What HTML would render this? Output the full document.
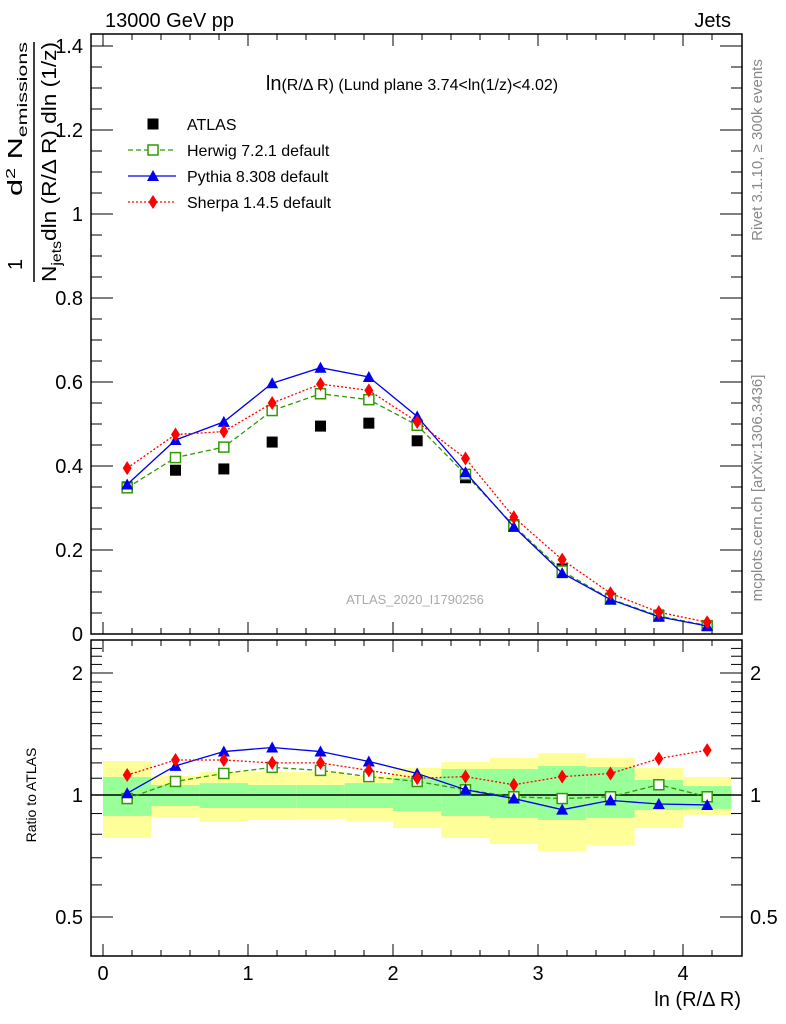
<!DOCTYPE html>
<html><head><meta charset="utf-8">
<style>
html,body{margin:0;padding:0;background:#fff;}
svg{display:block;font-family:"Liberation Sans",sans-serif;}
</style></head>
<body>
<svg id="chart" width="786" height="1024" viewBox="0 0 786 1024" xmlns="http://www.w3.org/2000/svg">
<text x="105" y="27" font-size="20">13000 GeV pp</text>
<text x="731" y="27" font-size="20" text-anchor="end">Jets</text>
<text x="412" y="90" font-size="16" text-anchor="middle"><tspan font-size="20">ln</tspan>(R/Δ R) (Lund plane 3.74&lt;ln(1/z)&lt;4.02)</text>
<text x="415" y="604" font-size="13" fill="#aaa" text-anchor="middle">ATLAS_2020_I1790256</text>
<text transform="translate(762,150) rotate(-90)" font-size="15" fill="#888" text-anchor="middle">Rivet 3.1.10, ≥ 300k events</text>
<text transform="translate(762,488) rotate(-90)" font-size="15" fill="#888" text-anchor="middle">mcplots.cern.ch [arXiv:1306.3436]</text>
<g font-size="20">
<text transform="translate(22,270) rotate(-90)">1</text>
<line x1="34" y1="42" x2="34" y2="282" stroke="#000" stroke-width="1.5"/>
<text transform="translate(22,196) rotate(-90)" textLength="154" lengthAdjust="spacingAndGlyphs">d<tspan font-size="13" dy="-7">2</tspan><tspan dy="7"> N</tspan><tspan font-size="14" dy="5">emissions</tspan></text>
<text transform="translate(56,282) rotate(-90)" textLength="240" lengthAdjust="spacingAndGlyphs">N<tspan font-size="14" dy="5">jets</tspan><tspan dy="-5">dln (R/Δ R) dln (1/z)</tspan></text>
</g>
<text transform="translate(36,795) rotate(-90)" font-size="14" text-anchor="middle">Ratio to ATLAS</text>
<text x="741" y="1006" font-size="20" text-anchor="end">ln (R/Δ R)</text>
<g id="layer"></g>
</svg>
<script>
const edges=[0,0.3333,0.6667,1,1.3333,1.6667,2,2.3333,2.6667,3,3.3333,3.6667,4,4.3333];
const centers=[0.1667,0.5,0.8333,1.1667,1.5,1.8333,2.1667,2.5,2.8333,3.1667,3.5,3.8333,4.1667];
const atlas=[0.35,0.39,0.393,0.457,0.495,0.502,0.46,0.372,0.26,0.155,0.085,0.045,0.02];
const herwig=[0.348,0.42,0.445,0.532,0.572,0.558,0.497,0.38,0.258,0.15,0.083,0.043,0.02];
const pythia=[0.356,0.462,0.505,0.597,0.634,0.612,0.518,0.385,0.255,0.145,0.082,0.041,0.019];
const sherpa=[0.395,0.475,0.482,0.55,0.595,0.58,0.505,0.418,0.278,0.177,0.097,0.052,0.028];
const herwigRatio=[0.98,1.08,1.13,1.17,1.15,1.11,1.08,1.03,0.99,0.98,0.99,1.06,0.99];
const pythiaRatio=[1.01,1.18,1.28,1.31,1.28,1.21,1.13,1.03,0.98,0.92,0.97,0.95,0.945];
const sherpaRatio=[1.12,1.22,1.22,1.2,1.2,1.15,1.1,1.11,1.06,1.11,1.13,1.23,1.29];
const sherpaRatioErr=[0,0,0,0,0,0,0,0,0,0.01,0.02,0.035,0.045];
const greenTop=[1.108,1.058,1.07,1.058,1.058,1.07,1.101,1.159,1.159,1.179,1.172,1.089,1.052];
const greenBot=[0.888,0.939,0.929,0.929,0.929,0.929,0.913,0.888,0.878,0.868,0.878,0.918,0.924];
const yellowTop=[1.213,1.114,1.14,1.14,1.14,1.114,1.166,1.206,1.234,1.269,1.234,1.166,1.108];
const yellowBot=[0.783,0.882,0.858,0.868,0.873,0.863,0.829,0.783,0.757,0.727,0.753,0.829,0.893];
const xTicks=[0,1,2,3,4];
const yTicks=[0,0.2,0.4,0.6,0.8,1,1.2,1.4];
const yTickLabels=["0","0.2","0.4","0.6","0.8","1","1.2","1.4"];
const rTicks=[0.5,1,2];

const L=91,R=742,T=34,B=634,RT=640,RB=956;
const X=v=>103+v*145;
const Y=v=>634-v*420;
const RY=r=>795-122*Math.log2(r);
const NS="http://www.w3.org/2000/svg";
const layer=document.getElementById('layer');
function mk(tag,attrs,parent){const e=document.createElementNS(NS,tag);for(const k in attrs)e.setAttribute(k,attrs[k]);(parent||layer).appendChild(e);return e;}

const bands=mk('g',{});


for(let i=0;i<centers.length;i++){
  const x1=X(edges[i]),x2=X(edges[i+1]);
  const y=mk('rect',{x:x1,y:RY(yellowTop[i]),width:x2-x1,height:RY(yellowBot[i])-RY(yellowTop[i]),fill:'#ffff99'},bands);
  
  
  const g=mk('rect',{x:x1,y:RY(greenTop[i]),width:x2-x1,height:RY(greenBot[i])-RY(greenTop[i]),fill:'#99ff99'},bands);
  
  
}
const one=mk('line',{x1:L,x2:R,y1:RY(1),y2:RY(1),stroke:'#000','stroke-width':1.5});



for(const [t,b,nm] of [[T,B,'main-frame'],[RT,RB,'ratio-frame']]){
  const f=mk('rect',{x:L,y:t,width:R-L,height:b-t,fill:'none',stroke:'#000','stroke-width':1.5});
  
  
  for(let v=-0.0;v<=4.4;v+=0.2){
    const xx=X(v);const major=Math.abs(v-Math.round(v))<1e-6;const len=major?12:6;
    mk('line',{x1:xx,x2:xx,y1:b,y2:b-len,stroke:'#000'});
    mk('line',{x1:xx,x2:xx,y1:t,y2:t+len,stroke:'#000'});
  }
}
for(let v=0;v<=1.42;v+=0.05){
  const yy=Y(v);const major=Math.abs(v/0.2-Math.round(v/0.2))<1e-6;const len=major?22:11;
  mk('line',{x1:L,x2:L+len,y1:yy,y2:yy,stroke:'#000'});
  mk('line',{x1:R,x2:R-len,y1:yy,y2:yy,stroke:'#000'});
}
yTicks.forEach((v,i)=>{const t=mk('text',{x:83,y:Y(v)+7,'font-size':20,'text-anchor':'end'});t.textContent=yTickLabels[i];
 
 });
for(let r=0.4;r<=2.4;r+=0.1){const yy=RY(r);if(yy<RT||yy>RB)continue;
 const major=rTicks.some(m=>Math.abs(m-r)<1e-6);const len=major?22:11;
 mk('line',{x1:L,x2:L+len,y1:yy,y2:yy,stroke:'#000'});
 mk('line',{x1:R,x2:R-len,y1:yy,y2:yy,stroke:'#000'});}
rTicks.forEach(r=>{for(const [x,a] of [[83,'end'],[750,'start']]){const t=mk('text',{x:x,y:RY(r)+7,'font-size':20,'text-anchor':a});t.textContent=String(r);
 
 }});
xTicks.forEach(v=>{const t=mk('text',{x:X(v),y:980,'font-size':20,'text-anchor':'middle'});t.textContent=String(v);
 
 });

function marker(kind,x,y,color,g){
  if(kind==='sq') return mk('rect',{x:x-5.5,y:y-5.5,width:11,height:11,fill:'#000'},g);
  if(kind==='osq') return mk('rect',{x:x-5,y:y-5,width:10,height:10,fill:'#fff',stroke:color,'stroke-width':1.5},g);
  if(kind==='tri') return mk('polygon',{points:`${x-6},${y+5} ${x+6},${y+5} ${x},${y-6}`,fill:color},g);
  if(kind==='dia') return mk('polygon',{points:`${x},${y-7} ${x+4.5},${y} ${x},${y+7} ${x-4.5},${y}`,fill:color},g);
}
function series(name,vals,yf,color,dash,kind,err){
  const g=mk('g',{});
  
  
  if(color){const pts=centers.map((c,i)=>X(c)+','+yf(vals[i])).join(' ');
    mk('polyline',{points:pts,fill:'none',stroke:color,'stroke-width':1.3,'stroke-dasharray':dash},g);}
  centers.forEach((c,i)=>{
    if(err&&err[i]>0)mk('line',{x1:X(c),x2:X(c),y1:yf(vals[i]+err[i]),y2:yf(vals[i]-err[i]),stroke:color,'stroke-width':1.3,'stroke-dasharray':'2,2'},g);
    const m=marker(kind,X(c),yf(vals[i]),color||'#000',g);
    
    
  });
}
series('atlas-series',atlas,Y,null,'','sq');
series('herwig-series',herwig,Y,'#339900','5,3','osq');
series('pythia-series',pythia,Y,'#0000ee','','tri');
series('sherpa-series',sherpa,Y,'#ff0000','2,2','dia');
series('herwig-ratio',herwigRatio,RY,'#339900','5,3','osq');
series('pythia-ratio',pythiaRatio,RY,'#0000ee','','tri');
series('sherpa-ratio',sherpaRatio,RY,'#ff0000','2,2','dia',sherpaRatioErr);

const leg=[['ATLAS',null,'','sq'],['Herwig 7.2.1 default','#339900','5,3','osq'],['Pythia 8.308 default','#0000ee','','tri'],['Sherpa 1.4.5 default','#ff0000','2,2','dia']];
leg.forEach((e,i)=>{
  const y=124+i*26;const g=mk('g',{});
  
  
  if(e[1])mk('line',{x1:128,x2:176,y1:y,y2:y,stroke:e[1],'stroke-width':1.3,'stroke-dasharray':e[2]},g);
  marker(e[3],153,y,e[1]||'#000',g);
  const t=mk('text',{x:187,y:y+6,'font-size':16},g);t.textContent=e[0];
});
</script>
</body></html>
